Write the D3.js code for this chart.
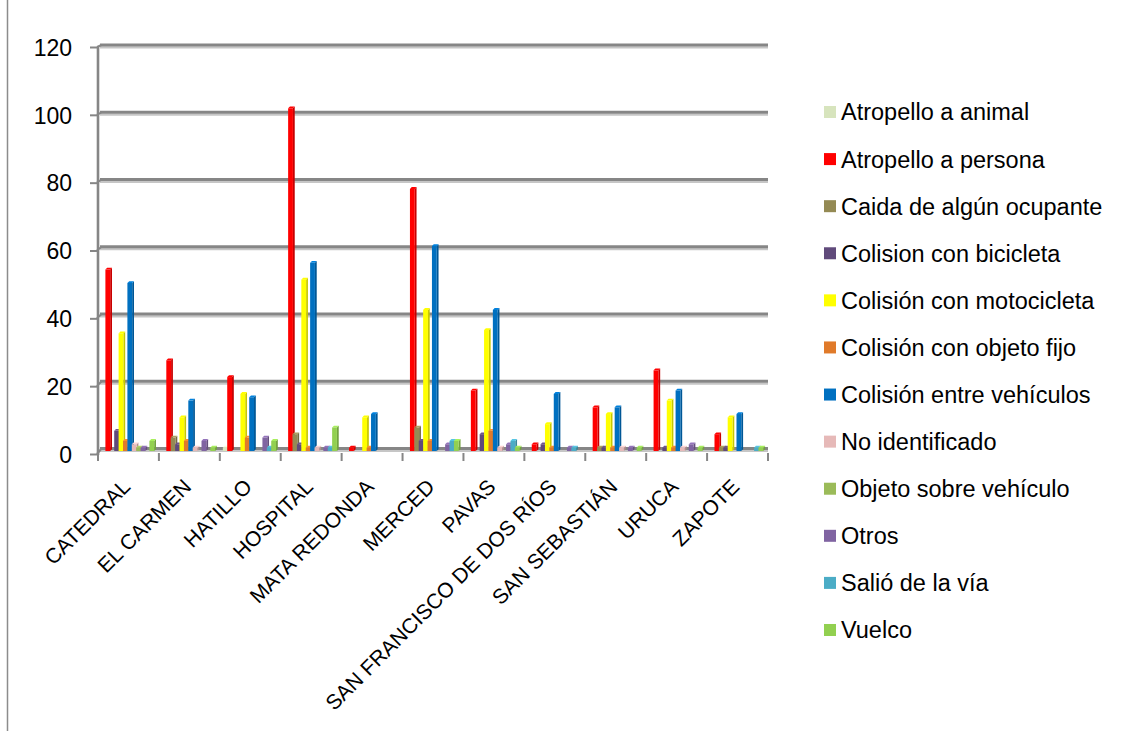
<!DOCTYPE html>
<html>
<head>
<meta charset="utf-8">
<script src="https://cdn.jsdelivr.net/npm/d3@7"></script>
<style>
  body { margin: 0; background: #fff; }
  svg { display: block; }
  text { font-family: "Liberation Sans", Arial, sans-serif; fill: #000; }
</style>
</head>
<body>
<svg id="chart" width="1125" height="731"></svg>
<script>
// Accidentes por distrito y tipo
const categories = ["CATEDRAL", "EL CARMEN", "HATILLO", "HOSPITAL", "MATA REDONDA", "MERCED",
  "PAVAS", "SAN FRANCISCO DE DOS RÍOS", "SAN SEBASTIÁN", "URUCA", "ZAPOTE"];

const seriesNames = ["Atropello a animal", "Atropello a persona", "Caida de algún ocupante",
  "Colision con bicicleta", "Colisión con motocicleta", "Colisión con objeto fijo",
  "Colisión entre vehículos", "No identificado", "Objeto sobre vehículo", "Otros",
  "Salió de la vía", "Vuelco"];

const atropelloAnimal     = [0, 0, 1, 0, 0, 0, 0, 0, 0, 0, 0];
const atropelloPersona    = [54, 27, 22, 102, 1, 78, 18, 2, 13, 24, 5];
const caidaOcupante       = [0, 4, 0, 5, 0, 7, 0, 0, 1, 0, 1];
const colisionBicicleta   = [6, 2, 0, 2, 0, 3, 5, 2, 1, 1, 1];
const colisionMotocicleta = [35, 10, 17, 51, 10, 42, 36, 8, 11, 15, 10];
const colisionObjetoFijo  = [3, 3, 4, 1, 1, 3, 6, 1, 1, 1, 0];
const colisionVehiculos   = [50, 15, 16, 56, 11, 61, 42, 17, 13, 18, 11];
const noIdentificado      = [2, 1, 0, 1, 0, 0, 1, 0, 1, 1, 0];
const objetoSobreVehiculo = [1, 0, 0, 0, 0, 0, 0, 0, 0, 0, 0];
const otros               = [1, 3, 4, 1, 0, 2, 2, 1, 1, 2, 0];
const salioVia            = [0, 0, 1, 1, 0, 3, 3, 1, 0, 0, 1];
const vuelco              = [3, 1, 3, 7, 0, 3, 1, 0, 1, 1, 1];

const seriesValues = [atropelloAnimal, atropelloPersona, caidaOcupante, colisionBicicleta,
  colisionMotocicleta, colisionObjetoFijo, colisionVehiculos, noIdentificado,
  objetoSobreVehiculo, otros, salioVia, vuelco];

const seriesColors = ["#D7E4BD", "#FF0000", "#948A54", "#604A7B", "#FFFF00", "#E07A2A",
  "#0070C0", "#E6B9B8", "#9BBB59", "#8064A2", "#4BACC6", "#92D050"];

const yTicks = [0, 20, 40, 60, 80, 100, 120];

const svg = d3.select("#chart");

// Scales
const x0 = d3.scaleBand().domain(categories).range([98, 768]).padding(0);
const x1 = d3.scaleBand().domain(d3.range(seriesNames.length)).range([3, 3 + 4.4 * 12]).padding(0);
const yWall = d3.scaleLinear().domain([0, 120]).range([454, 47]);   // tick marks on the side wall
const yGrid = d3.scaleLinear().domain([0, 120]).range([448.5, 45]); // back-wall gridlines
const yBar  = d3.scaleLinear().domain([0, 120]).range([451, 47.8]); // bar front faces

const gridDark = "#868686", gridLight = "#C6C6C6";

// Outer border of the chart area (left edge)
svg.append("line").attr("x1", 7.5).attr("x2", 7.5).attr("y1", 0).attr("y2", 731)
  .attr("stroke", "#8C8C8C").attr("stroke-width", 1.5);

// Gridlines on the back wall, with a light lower edge
const grid = svg.append("g");
yTicks.forEach(v => {
  const yg = yGrid(v);
  grid.append("line").attr("x1", 100).attr("x2", 768).attr("y1", yg + 2.4).attr("y2", yg + 2.4)
    .attr("stroke", gridLight).attr("stroke-width", 2.2);
  grid.append("line").attr("x1", 100).attr("x2", 768).attr("y1", yg).attr("y2", yg)
    .attr("stroke", gridDark).attr("stroke-width", 2.8);
  // corner joining wall tick and gridline
  grid.append("line").attr("x1", 97).attr("x2", 101.5).attr("y1", yWall(v)).attr("y2", yg)
    .attr("stroke", gridDark).attr("stroke-width", 2);
});

// Side wall and y ticks
svg.append("line").attr("x1", 98).attr("x2", 98).attr("y1", yWall(120)).attr("y2", yWall(0) + 1)
  .attr("stroke", gridDark).attr("stroke-width", 2.6);
const yAxis = d3.axisLeft(yWall).tickValues(yTicks).tickSize(7).tickPadding(18);
const gy = svg.append("g").attr("transform", "translate(97,0)").call(yAxis);
gy.select(".domain").remove();
gy.selectAll(".tick line").attr("stroke", gridDark).attr("stroke-width", 2);
gy.selectAll(".tick text").style("font-size", "23px").style("font-family", "\"Liberation Sans\", Arial, sans-serif")
  .attr("fill", "#000").attr("dy", "0.36em");

// Floor ticks between categories
const boundaries = categories.map(c => x0(c)).concat([x0.range()[1]]);
svg.append("g").selectAll("line").data(boundaries).join("line")
  .attr("x1", d => d).attr("x2", d => d).attr("y1", 453).attr("y2", 461)
  .attr("stroke", gridDark).attr("stroke-width", 2);

// Bars drawn with a front face, a darker side and a lighter top
const depth = 1.8, barW = 4.8;
const barData = [];
categories.forEach((c, ci) => {
  seriesValues.forEach((vals, si) => {
    barData.push({ cat: c, s: si, v: vals[ci] });
  });
});
const bars = svg.append("g").selectAll("g").data(barData.filter(d => d.v > 0)).join("g");
bars.each(function(d) {
  const g = d3.select(this);
  const x = x0(d.cat) + x1(d.s);
  const top = yBar(d.v), base = yBar(0);
  const col = d3.color(seriesColors[d.s]);
  g.append("polygon")
    .attr("points", [[x + barW, base], [x + barW + depth, base - depth], [x + barW + depth, top - depth], [x + barW, top]].join(" "))
    .attr("fill", col.darker(0.7));
  g.append("polygon")
    .attr("points", [[x, top], [x + depth, top - depth], [x + barW + depth, top - depth], [x + barW, top]].join(" "))
    .attr("fill", col.brighter(0.4));
  g.append("rect").attr("x", x).attr("y", top).attr("width", barW).attr("height", base - top)
    .attr("fill", col);
});

// Category labels, rotated
svg.append("g").selectAll("text").data(categories).join("text")
  .attr("transform", c => `translate(${x0(c) + x0.bandwidth() / 2 + 3},488) rotate(-45)`)
  .attr("text-anchor", "end")
  .style("font-size", "21px")
  .text(c => c);

// Legend
const legend = svg.append("g").selectAll("g").data(seriesNames).join("g")
  .attr("transform", (d, i) => `translate(824,${112 + i * 47.09})`);
legend.append("rect").attr("x", 0).attr("y", -6).attr("width", 12).attr("height", 12)
  .attr("fill", (d, i) => seriesColors[i]);
legend.append("text").attr("x", 17).attr("dy", "0.36em").style("font-size", "23.5px").text(d => d);
</script>
</body>
</html>
